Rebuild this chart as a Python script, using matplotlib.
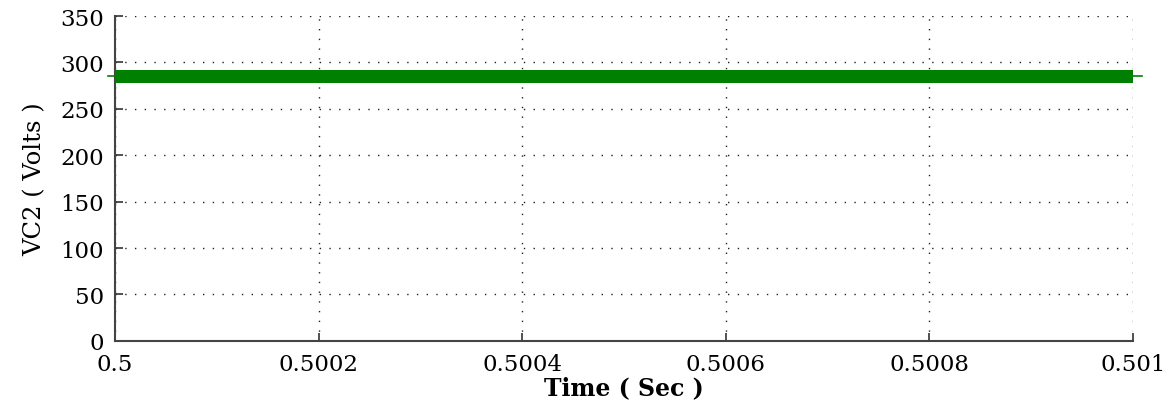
import matplotlib
matplotlib.use("Agg")
import matplotlib.pyplot as plt

# Data
time_sec = [0.5, 0.501]
vc2_upper = [291.5, 291.5]
vc2_lower = [278.0, 278.0]
vc2_mean = 285.0
x_ticks = [0.5, 0.5002, 0.5004, 0.5006, 0.5008, 0.501]
x_tick_labels = ["0.5", "0.5002", "0.5004", "0.5006", "0.5008", "0.501"]
y_ticks = [0, 50, 100, 150, 200, 250, 300, 350]

plt.rcParams['font.family'] = ['DejaVu Serif', 'Liberation Serif']

fig = plt.figure(figsize=(11.76, 4.06), dpi=100)
ax = fig.add_axes([0.0978, 0.158, 0.8656, 0.800])

green = '#008000'
ax.fill_between(time_sec, vc2_lower, vc2_upper, color=green, linewidth=0, zorder=3)
ax.axhline(vc2_mean, xmin=-0.007, xmax=1.009, color=green, linewidth=1.2, clip_on=False, zorder=3)

ax.set_xlim(time_sec[0], time_sec[-1])
ax.set_ylim(0, 350)
ax.set_xticks(x_ticks)
ax.set_xticklabels(x_tick_labels)
ax.set_yticks(y_ticks)

ax.grid(True, color='#222222', linestyle=(0, (1, 6)), linewidth=1.0)
ax.set_axisbelow(True)
for s in ['top', 'right']:
    ax.spines[s].set_visible(False)
for s in ['left', 'bottom']:
    ax.spines[s].set_color('#444444')
    ax.spines[s].set_linewidth(1.5)

ax.tick_params(direction='in', length=6, width=1.2, color='#333333', labelsize=16.5)
ax.tick_params(axis='x', pad=9)
ax.tick_params(axis='y', pad=8)

ax.set_xlabel('Time ( Sec )', fontsize=17, fontweight='bold', labelpad=0)
ax.set_ylabel('VC2 ( Volts )', fontsize=17.5, labelpad=10)

fig.savefig('out.png', dpi=100)
